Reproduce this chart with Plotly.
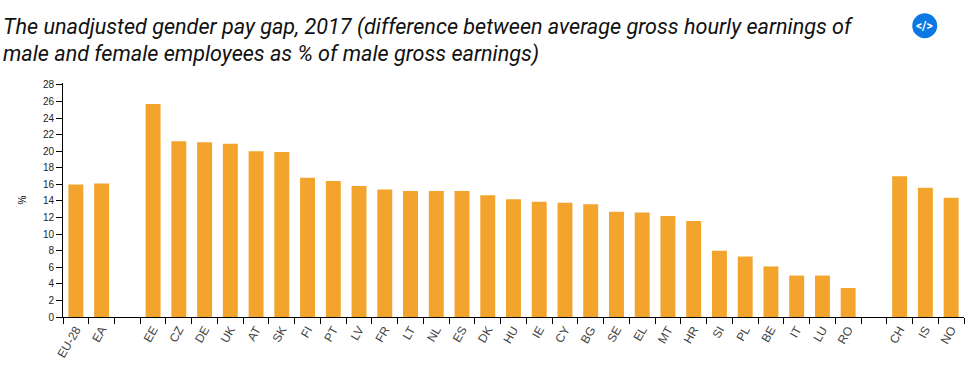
import plotly.graph_objects as go

categories = ["EU-28", "EA", " ", "EE", "CZ", "DE", "UK", "AT", "SK", "FI", "PT", "LV", "FR", "LT", "NL",
              "ES", "DK", "HU", "IE", "CY", "BG", "SE", "EL", "MT", "HR", "SI", "PL", "BE", "IT", "LU",
              "RO", "  ", "CH", "IS", "NO"]
values = [16.0, 16.1, None, 25.7, 21.2, 21.1, 20.9, 20.0, 19.9, 16.8, 16.4, 15.8, 15.4, 15.2, 15.2,
          15.2, 14.7, 14.2, 13.9, 13.8, 13.6, 12.7, 12.6, 12.2, 11.6, 8.0, 7.3, 6.1, 5.0, 5.0,
          3.5, None, 17.0, 15.6, 14.4]
y_ticks = list(range(0, 29, 2))
title_lines = ["The unadjusted gender pay gap, 2017 (difference between average gross hourly earnings of",
               "male and female employees as % of male gross earnings)"]

W, H = 974, 382
L, R, T, B = 62.5, 9.5, 82.7, 64.5

fig = go.Figure(go.Bar(x=categories, y=values, marker=dict(color="#F2A42C", line_width=0), width=0.58))

fig.update_layout(
    width=W, height=H, autosize=False,
    margin=dict(l=L, r=R, t=T, b=B),
    paper_bgcolor="white", plot_bgcolor="white",
    showlegend=False,
    font=dict(family="Liberation Sans, Arial, sans-serif", size=10, color="#000"),
    xaxis=dict(type="category", categoryorder="array", categoryarray=categories,
               tickmode="array", tickvals=categories, ticktext=categories,
               tickson="boundaries", ticks="outside", ticklen=6, tickwidth=1, tickcolor="#000",
               tickangle=-60, showline=True, linecolor="#000", linewidth=1, showgrid=False,
               tickfont=dict(size=12, color="#444", family="Liberation Sans"), range=[-0.5, 34.5]),
    yaxis=dict(range=[0, 28.24], tickmode="array", tickvals=y_ticks, ticks="outside", ticklen=6,
               tickwidth=1, tickcolor="#000", showline=True, linecolor="#000", linewidth=1,
               showgrid=False, zeroline=False,
               tickfont=dict(size=10, color="#222"),
               title=dict(text="%", standoff=14, font=dict(size=10, color="#000"))),
)

pw, ph = W - L - R, H - T - B
# Title lines as left-anchored annotations so their spacing matches
for line, cy in zip(title_lines, (27, 54)):
    fig.add_annotation(text=line, xref="paper", yref="paper", x=(0.5 - L) / pw, y=(H - B - cy) / ph,
                       xanchor="left", yanchor="middle", align="left", showarrow=False,
                       font=dict(family="Roboto", size=21.6, color="#111", style="italic"))

# Embed badge, top right
fig.add_shape(type="circle", xref="paper", yref="paper", x0=(912.7 - L) / pw, x1=(937.7 - L) / pw,
              y0=(H - B - 37.7) / ph, y1=(H - B - 12.7) / ph, fillcolor="#0B78E3", line_width=0)
fig.add_annotation(text="<\u200b/>", xref="paper", yref="paper", x=(925.2 - L) / pw, y=(H - B - 25.2) / ph,
                   xanchor="center", yanchor="middle", showarrow=False,
                   font=dict(family="Roboto", size=12, color="white", weight=700))

fig.write_html("out.html", config={"displayModeBar": False}, post_script="document.body.style.margin='0';")
